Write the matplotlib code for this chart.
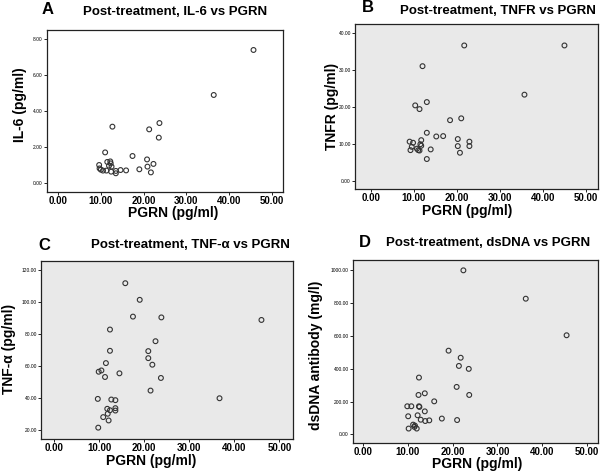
import matplotlib
matplotlib.use("Agg")
import matplotlib.pyplot as plt

plt.rcParams['font.family'] = ['Liberation Sans', 'DejaVu Sans']

# panel A: IL-6 vs PGRN
il6_pgrn = [45.7, 36.4, 12.7, 21.3, 23.7, 23.55, 11.0, 17.4, 20.8, 11.5, 12.2, 12.3, 11.9, 12.5,
            22.3, 20.9, 9.6, 9.7, 10.0, 10.5, 11.3, 12.4, 13.5, 13.5, 14.6, 15.9, 19.0, 21.7]
il6 = [7.39, 4.89, 3.13, 2.98, 3.33, 2.52, 1.70, 1.50, 1.31, 1.17, 1.20, 1.09, 0.96, 0.91,
       1.06, 0.91, 1.00, 0.81, 0.74, 0.69, 0.69, 0.63, 0.67, 0.54, 0.72, 0.70, 0.76, 0.59]

# panel B: TNFR vs PGRN
tnfr_pgrn = [21.7, 45.0, 12.0, 35.7, 13.0, 10.3, 11.3, 18.4, 21.0, 13.0, 15.2, 16.8, 20.2, 22.9, 22.9,
             20.2, 20.7, 9.0, 9.8, 9.5, 9.2, 11.7, 11.5, 11.7, 10.7, 11.0, 11.3, 13.9, 13.0]
tnfr = [36.6, 36.6, 31.0, 23.3, 21.3, 20.4, 19.4, 16.4, 16.9, 13.0, 12.0, 12.1, 11.3, 10.6, 9.4,
        9.4, 7.6, 10.6, 10.3, 9.2, 8.3, 11.0, 9.9, 9.5, 8.7, 8.3, 8.2, 8.5, 5.9]

# panel C: TNF-alpha vs PGRN
tnfa_pgrn = [15.8, 19.0, 17.5, 23.8, 46.0, 12.4, 22.5, 12.4, 20.9, 20.9, 21.8, 11.5, 10.5, 9.9, 14.5,
             11.3, 23.7, 21.4, 36.7, 9.7, 12.7, 13.6, 11.8, 13.6, 13.6, 12.4, 11.9, 10.9, 12.1, 9.8]
tnfa = [111.9, 101.5, 91.0, 90.5, 88.9, 82.9, 75.6, 69.6, 69.4, 65.0, 60.9, 61.9, 57.3, 56.5, 55.5,
        53.2, 52.6, 44.7, 39.9, 39.5, 39.1, 38.7, 33.3, 33.7, 32.2, 32.4, 30.2, 28.1, 26.0, 21.5]

# panel D: dsDNA antibody vs PGRN
ds_pgrn = [22.4, 36.3, 45.4, 19.1, 21.8, 21.4, 23.6, 12.5, 20.9, 12.4, 13.8, 23.7, 15.9, 9.9, 10.8,
           12.5, 12.6, 13.8, 10.1, 12.2, 12.9, 13.9, 14.8, 17.6, 21.0, 11.2, 11.6, 11.5, 12.0, 10.2]
dsdna = [1000, 827, 604, 510, 467, 417, 399, 346, 289, 240, 250, 240, 201, 171, 171,
         171, 167, 140, 110, 116, 89, 81, 85, 96, 87, 59, 53, 45, 35, 35]

W, H = 600, 474
fig = plt.figure(figsize=(6, 4.74), dpi=100)

def px_axes(l, t, r, b):
    return fig.add_axes([l / W, 1 - b / H, (r - l) / W, (b - t) / H])

panels = [
    # letter, title, ylabel, x, y, box, xlim, ylim, yticks, bg, letter pos, title pos, xlabel pos, ylabel pos
    ('A', 'Post-treatment, IL-6 vs PGRN', 'IL-6 (pg/ml)', il6_pgrn, il6,
     (47, 30, 283, 192), (-2.6, 52.6), (-0.5, 8.5), [0, 2, 4, 6, 8], 'white',
     (48, 10), (175, 12), (173, 213), (20, 105)),
    ('B', 'Post-treatment, TNFR vs PGRN', 'TNFR (pg/ml)', tnfr_pgrn, tnfr,
     (355, 24, 598, 189), (-3.7, 52.8), (-2.2, 42.4), [0, 10, 20, 30, 40], '#e9e9e9',
     (368, 8), (498, 11), (467, 211), (332, 106)),
    ('C', 'Post-treatment, TNF-α vs PGRN', 'TNF-α (pg/ml)', tnfa_pgrn, tnfa,
     (41, 261, 293, 439), (-2.9, 53.0), (14.4, 125.8), [20, 40, 60, 80, 100, 120], '#e9e9e9',
     (44, 246), (190, 245), (151, 461), (9, 349)),
    ('D', 'Post-treatment, dsDNA vs PGRN', 'dsDNA antibody (mg/l)', ds_pgrn, dsdna,
     (353, 260, 598, 443), (-2.2, 52.4), (-53, 1063), [0, 200, 400, 600, 800, 1000], '#e9e9e9',
     (365, 243), (488, 243), (477, 464), (316, 355)),
]

for (letter, title, ylab, xs, ys, box, xlim, ylim, yticks, bg,
     lpos, tpos, xlpos, ylpos) in panels:
    ax = px_axes(*box)
    ax.set_facecolor(bg)
    ax.scatter(xs, ys, s=12, facecolors='none', edgecolors='#333333', linewidths=0.8)
    ax.set_xlim(*xlim)
    ax.set_ylim(*ylim)
    ax.set_xticks([0, 10, 20, 30, 40, 50])
    ax.set_xticklabels(['%.2f' % v for v in [0, 10, 20, 30, 40, 50]],
                       fontsize=7, fontweight='bold')
    ax.set_yticks(yticks)
    ax.set_yticklabels(['%.2f' % v for v in yticks], fontsize=3.5)
    ax.tick_params(axis='both', length=2, width=0.6, pad=1)
    for sp in ax.spines.values():
        sp.set_linewidth(0.9)
        sp.set_color('#222222')

    fig.text(lpos[0] / W, 1 - lpos[1] / H, letter, fontsize=12, fontweight='bold',
             ha='center', va='center')
    fig.text(tpos[0] / W, 1 - tpos[1] / H, title, fontsize=9.5, fontweight='bold',
             ha='center', va='center')
    fig.text(xlpos[0] / W, 1 - xlpos[1] / H, 'PGRN (pg/ml)', fontsize=10, fontweight='bold',
             ha='center', va='center')
    fig.text(ylpos[0] / W, 1 - ylpos[1] / H, ylab, fontsize=10, fontweight='bold',
             ha='center', va='center', rotation=90)

fig.savefig('out.png', dpi=100)
